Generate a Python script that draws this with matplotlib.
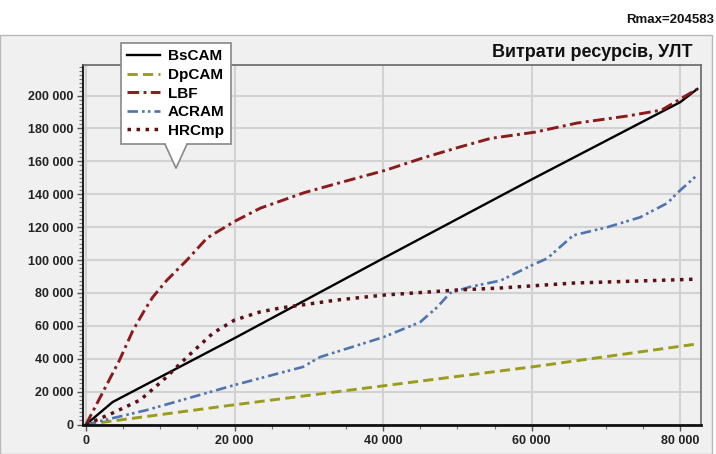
import matplotlib
matplotlib.use('Agg')
import matplotlib.pyplot as plt
from matplotlib.patches import Rectangle, Polygon
from matplotlib.lines import Line2D
from matplotlib.ticker import MultipleLocator, FuncFormatter

plt.rcParams['font.family'] = ['Liberation Sans', 'DejaVu Sans']

# values
bs_x = [0, 3600, 20000, 40000, 60000, 80000, 82300]
bs_y = [0, 13700, 52500, 101000, 149000, 196000, 204000]

dp_x = [0, 20000, 40000, 60000, 82300]
dp_y = [0, 12000, 23500, 35000, 49000]

lbf_x = [0, 2200, 4500, 6300, 7900, 9000, 10900, 13600, 16300, 20000, 23500,
         29400, 34000, 40400, 45300, 50300, 54500, 60500, 66100, 72900, 77500, 82300]
lbf_y = [0, 19000, 39000, 57000, 69600, 77500, 87800, 100000, 113400, 123500, 131600,
         141000, 146800, 154700, 162000, 168700, 174000, 177800, 183300, 187600, 191200, 204000]

acr_x = [0, 8200, 20000, 26100, 29200, 31500, 40100, 45000, 47300, 49000, 51700,
         55800, 60100, 62100, 65600, 70200, 74600, 78300, 79600, 82300]
acr_y = [0, 8800, 24000, 31300, 35000, 41000, 53200, 62300, 71400, 79900, 83700,
         87500, 97000, 101000, 115000, 120000, 126000, 134700, 140800, 151700]

hrc_x = [0, 3600, 7300, 10400, 13600, 17100, 20000, 23400, 26100, 33800, 40100,
         50000, 55800, 65600, 82300]
hrc_y = [0, 7000, 14900, 27000, 41000, 55600, 63500, 68400, 70800, 75700, 78700,
         81800, 83000, 86000, 88400]

series = ['BsCAM', 'DpCAM', 'LBF', 'ACRAM', 'HRCmp']

W, H = 716, 454
fig = plt.figure(figsize=(W / 100, H / 100), dpi=100)
fig.patch.set_facecolor('white')

# gray panel behind the chart
panel = Rectangle((0, 0), 712 / W, 1 - 35 / H, transform=fig.transFigure,
                  facecolor='#f0f0f0', edgecolor='#b8b8b8', lw=1, zorder=-10)
fig.patches.append(panel)

ax = fig.add_axes([83 / W, 1 - 425 / H, (701 - 83) / W, (425 - 65) / H])
ax.set_facecolor('#f0f0f0')

ax.plot(bs_x, bs_y, '-', c='black', lw=1.7, label=series[0])
ax.plot(dp_x, dp_y, ls=(0, (3.5, 1.8)), c='#9c9c1c', lw=2.1, label=series[1])
ax.plot(lbf_x, lbf_y, ls=(0, (4, 1.5, 1, 1.5)), c='#8b1a1a', lw=2.1, label=series[2])
ax.plot(acr_x, acr_y, ls=(0, (4, 1.5, 1, 1.2, 1, 1.5)), c='#4f74b0', lw=1.9, label=series[3])
ax.plot(hrc_x, hrc_y, ls=(0, (1, 1.6)), c='#5c1016', lw=2.5, label=series[4])

ax.set_xlim(-400, 82800)
ax.set_ylim(-300, 218600)
ax.xaxis.set_major_locator(MultipleLocator(20000))
ax.xaxis.set_minor_locator(MultipleLocator(5000))
ax.yaxis.set_major_locator(MultipleLocator(20000))
ax.yaxis.set_minor_locator(MultipleLocator(2500))
fmt = FuncFormatter(lambda v, p: '{:,.0f}'.format(v).replace(',', ' '))
ax.xaxis.set_major_formatter(fmt)
ax.yaxis.set_major_formatter(fmt)
ax.grid(True, which='major', color='#d2d2d2', lw=1.5)
ax.set_axisbelow(True)

ax.tick_params(which='major', length=4, width=1, color='#555555', labelsize=9, pad=3)
ax.tick_params(which='minor', length=3, width=0.8, color='#777777')
for lab in ax.get_xticklabels() + ax.get_yticklabels():
    lab.set_fontweight('bold')
    lab.set_color('#222222')

ax.spines['left'].set_color('#222222')
ax.spines['left'].set_linewidth(1.5)
ax.spines['bottom'].set_color('#111111')
ax.spines['bottom'].set_linewidth(2)
ax.spines['top'].set_color('#666666')
ax.spines['right'].set_color('#666666')
ax.spines['top'].set_linewidth(1.2)
ax.spines['right'].set_linewidth(1.2)

fig.text(693 / W, 1 - 52 / H, 'Витрати ресурсів, УЛТ', ha='right', va='center',
         fontsize=13, fontweight='bold', color='#111111')
fig.text(0.997, 1 - 20 / H, 'Rmax=204583', ha='right', va='center',
         fontsize=9.5, fontweight='bold', color='#111111')

# legend callout
leg = fig.legend(loc='upper left', bbox_to_anchor=(121 / W, 1 - 43 / H),
                 frameon=True, fancybox=False, edgecolor='#888888', facecolor='white',
                 framealpha=1, prop={'size': 11, 'weight': 'bold'},
                 handlelength=2.1, handletextpad=0.55, labelspacing=0.3,
                 borderpad=0.42, borderaxespad=0)
leg.get_frame().set_linewidth(1.2)
leg.set_zorder(20)

# pointer under the legend box
fig.canvas.draw()
bb = leg.get_frame().get_window_extent()
ytop = bb.y0 / H
tip = ytop - 24 / H
tri = [(165 / W, ytop + 1.5 / H), (187 / W, ytop + 1.5 / H), (176 / W, tip)]
fig.patches.append(Polygon(tri, closed=True, transform=fig.transFigure,
                           facecolor='white', edgecolor='none', zorder=21))
fig.lines.append(Line2D([165 / W, 176 / W, 187 / W], [ytop, tip, ytop],
                        transform=fig.transFigure, color='#888888', lw=1.2, zorder=22))

fig.savefig('out.png', dpi=100)
